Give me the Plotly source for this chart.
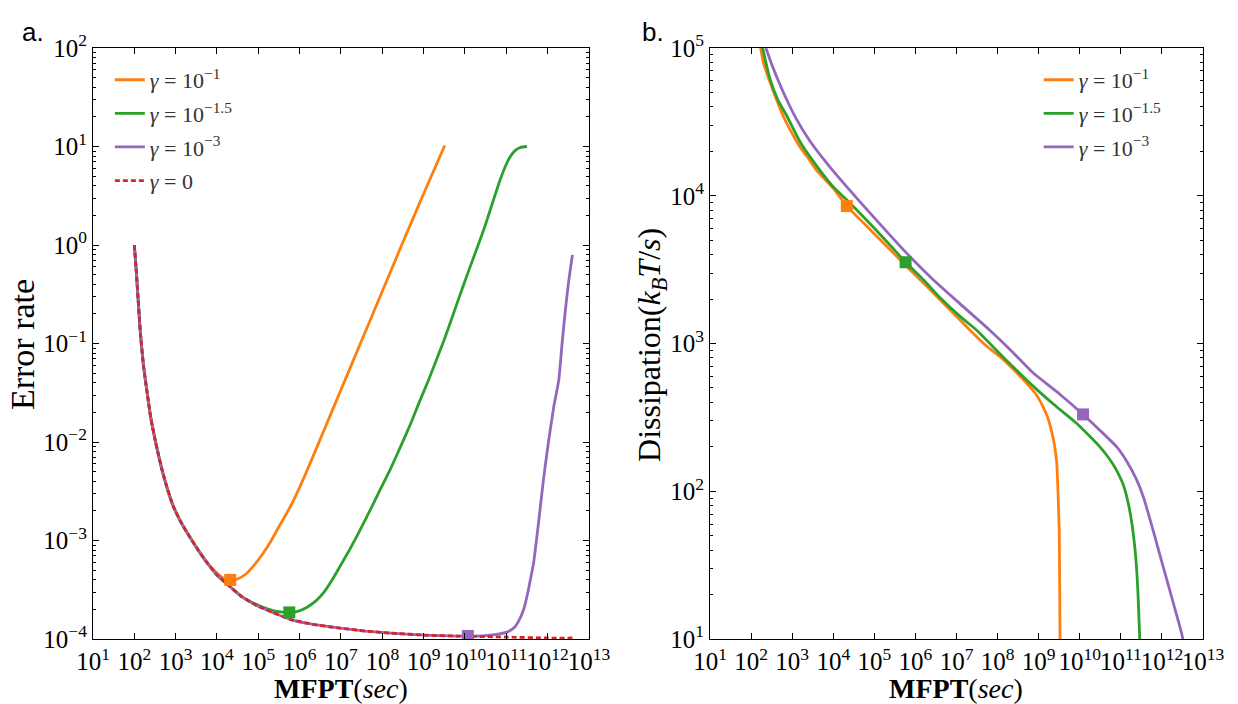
import numpy as np
import plotly.graph_objects as go

# values, stored as log10 of the axis values
# ---- panel a: error rate vs MFPT ----
common_x = [2.0, 2.05, 2.14, 2.22, 2.3, 2.4, 2.54, 2.7, 2.94, 3.15, 3.35, 3.55, 3.75]
common_y = [0.0, -0.28, -0.86, -1.22, -1.47, -1.76, -2.05, -2.33, -2.65, -2.83, -2.97, -3.10, -3.22]

orange_a_x = common_x + [4.0, 4.15, 4.32, 4.5, 4.7, 4.9, 5.1, 5.3, 5.5, 5.77, 6.0, 6.25, 6.5, 6.74, 7.0, 7.5, 8.0, 8.5, 9.0, 9.51]
orange_a_y = common_y + [-3.33, -3.38, -3.40, -3.39, -3.34, -3.25, -3.14, -3.01, -2.86, -2.66, -2.46, -2.22, -1.97, -1.73, -1.47, -0.97, -0.47, 0.03, 0.52, 1.01]

green_a_x = common_x + [4.0, 4.32, 4.6, 4.96, 5.2, 5.45, 5.75, 5.95, 6.17, 6.4, 6.58, 6.8, 6.98, 7.2, 7.38, 7.6, 7.79, 8.0, 8.19, 8.45, 8.68, 8.9, 9.12, 9.5, 9.81, 10.1, 10.45, 10.7, 10.85, 11.0, 11.1, 11.22, 11.34, 11.5]
green_a_y = common_y + [-3.35, -3.47, -3.57, -3.65, -3.69, -3.72, -3.73, -3.72, -3.68, -3.61, -3.53, -3.39, -3.26, -3.10, -2.96, -2.78, -2.62, -2.44, -2.28, -2.04, -1.82, -1.59, -1.37, -0.96, -0.59, -0.25, 0.15, 0.47, 0.66, 0.82, 0.90, 0.96, 0.99, 1.0]

tail_x = [4.0, 4.32, 4.6, 4.96, 5.35, 5.77, 6.3, 6.98, 7.6, 8.19, 9.0, 9.81]
tail_y = [-3.35, -3.47, -3.57, -3.66, -3.73, -3.80, -3.85, -3.89, -3.92, -3.94, -3.96, -3.97]

purple_a_x = common_x + tail_x + [10.07, 10.5, 10.8, 11.02, 11.2, 11.32, 11.42, 11.52, 11.6, 11.66, 11.78, 11.9, 12.02, 12.15, 12.27, 12.35, 12.42, 12.5, 12.6]
purple_a_y = common_y + tail_y + [-3.97, -3.965, -3.95, -3.93, -3.88, -3.80, -3.70, -3.53, -3.36, -3.23, -2.82, -2.38, -2.0, -1.64, -1.37, -1.0, -0.7, -0.4, -0.1]

red_a_x = common_x + tail_x + [11.0, 12.0, 12.6]
red_a_y = common_y + tail_y + [-3.98, -3.99, -3.99]

mark_a_x = [4.32, 5.75, 10.07]
mark_a_y = [-3.40, -3.73, -3.97]

# ---- panel b: dissipation vs MFPT ----
orange_b_x = [2.23, 2.3, 2.38, 2.55, 2.78, 3.0, 3.19, 3.4, 3.6, 4.0, 4.33, 4.65, 4.97, 5.4, 5.79, 6.3, 6.76, 7.33, 7.7, 8.06, 8.4, 8.71, 8.95, 9.11, 9.22, 9.31, 9.38, 9.44, 9.47, 9.50, 9.51, 9.52]
orange_b_y = [5.0, 4.9, 4.83, 4.7, 4.54, 4.42, 4.33, 4.25, 4.17, 4.05, 3.93, 3.84, 3.75, 3.63, 3.52, 3.38, 3.25, 3.09, 2.99, 2.91, 2.82, 2.73, 2.65, 2.57, 2.50, 2.41, 2.32, 2.19, 2.0, 1.74, 1.4, 1.0]

green_b_x = [2.28, 2.45, 2.65, 2.87, 3.2, 3.68, 4.0, 4.41, 5.0, 5.4, 5.76, 6.2, 6.6, 7.1, 7.49, 8.2, 8.87, 9.4, 9.92, 10.25, 10.49, 10.72, 10.9, 11.05, 11.18, 11.27, 11.34, 11.39, 11.42, 11.46]
green_b_y = [5.0, 4.8, 4.65, 4.54, 4.36, 4.17, 4.06, 3.95, 3.78, 3.66, 3.55, 3.43, 3.31, 3.18, 3.09, 2.89, 2.71, 2.58, 2.46, 2.37, 2.30, 2.22, 2.14, 2.05, 1.92, 1.78, 1.62, 1.45, 1.29, 1.0]

purple_b_x = [2.36, 2.5, 2.66, 2.85, 3.1, 3.43, 3.9, 4.33, 5.0, 5.79, 6.4, 7.08, 7.81, 8.3, 8.87, 9.5, 10.08, 10.5, 10.9, 11.15, 11.38, 11.55, 11.71, 11.95, 12.19, 12.32, 12.42, 12.47, 12.51]
purple_b_y = [5.0, 4.89, 4.78, 4.66, 4.52, 4.37, 4.2, 4.06, 3.85, 3.61, 3.44, 3.27, 3.09, 2.96, 2.80, 2.66, 2.52, 2.41, 2.30, 2.20, 2.08, 1.96, 1.81, 1.57, 1.33, 1.2, 1.1, 1.05, 1.0]

mark_b_x = [4.33, 5.76, 10.08]
mark_b_y = [3.93, 3.55, 2.52]

x_exps = list(range(1, 14))
ya_exps = list(range(-4, 3))
yb_exps = list(range(1, 6))

names = ["<i>γ</i> = 10<sup>−1</sup>", "<i>γ</i> = 10<sup>−1.5</sup>", "<i>γ</i> = 10<sup>−3</sup>", "<i>γ</i> = 0"]
colors = ["#ff7f0e", "#2ca02c", "#9467bd", "#d62728"]

SERIF = "Liberation Serif"


def p(v):
    return np.power(10.0, np.array(v))


def exp_labels(exps):
    return [f"10<sup>{str(e).replace('-', '−')}</sup>" for e in exps]


def minor_vals(exps):
    return [m * 10.0 ** e for e in exps[:-1] for m in range(2, 10)]


fig = go.Figure()

lines_a = [(orange_a_x, orange_a_y), (green_a_x, green_a_y), (purple_a_x, purple_a_y)]
for i, (xs, ys) in enumerate(lines_a):
    fig.add_trace(go.Scatter(x=p(xs), y=p(ys), mode="lines", name=names[i], legendgroup=f"a{i}",
                             line=dict(color=colors[i], width=2.8, shape="spline", smoothing=0.5),
                             xaxis="x", yaxis="y", legend="legend"))
fig.add_trace(go.Scatter(x=p(red_a_x), y=p(red_a_y), mode="lines", name=names[3], legendgroup="a3",
                         line=dict(color=colors[3], width=2.8, dash="5px,3px", shape="spline", smoothing=0.5),
                         xaxis="x", yaxis="y", legend="legend"))
fig.add_trace(go.Scatter(x=p(mark_a_x), y=p(mark_a_y), mode="markers", showlegend=False,
                         marker=dict(symbol="square", size=12, color=colors[:3]),
                         xaxis="x", yaxis="y"))

lines_b = [(orange_b_x, orange_b_y), (green_b_x, green_b_y), (purple_b_x, purple_b_y)]
for i, (xs, ys) in enumerate(lines_b):
    fig.add_trace(go.Scatter(x=p(xs), y=p(ys), mode="lines", name=names[i], legendgroup=f"b{i}",
                             line=dict(color=colors[i], width=2.8, shape="spline", smoothing=0.5),
                             xaxis="x2", yaxis="y2", legend="legend2"))
fig.add_trace(go.Scatter(x=p(mark_b_x), y=p(mark_b_y), mode="markers", showlegend=False,
                         marker=dict(symbol="square", size=12, color=colors[:3]),
                         xaxis="x2", yaxis="y2"))

frame = dict(showline=True, linecolor="black", linewidth=1.2, mirror="allticks",
             ticks="inside", ticklen=6, tickcolor="black", showgrid=False, zeroline=False,
             automargin=False, tickfont=dict(family=SERIF, size=25, color="black"))
xcommon = dict(type="log", range=[1, 13], tickvals=list(p(x_exps)), ticktext=exp_labels(x_exps), tickangle=0, **frame)


def yminor(exps):
    return dict(ticks="inside", ticklen=3, tickcolor="black", showgrid=False, tickvals=minor_vals(exps))


title_font = dict(family=SERIF, color="black")
fig.update_layout(
    width=1238, height=704,
    paper_bgcolor="white", plot_bgcolor="white",
    margin=dict(l=93, r=35, t=48, b=65),
    xaxis=dict(domain=[0, 0.4468], anchor="y", **xcommon),
    yaxis=dict(domain=[0, 1], anchor="x", type="log", range=[-4, 2],
               tickvals=list(p(ya_exps)), ticktext=exp_labels(ya_exps), minor=yminor(ya_exps), **frame),
    xaxis2=dict(domain=[0.5559, 1], anchor="y2", **xcommon),
    yaxis2=dict(domain=[0, 1], anchor="x2", type="log", range=[1, 5],
                tickvals=list(p(yb_exps)), ticktext=exp_labels(yb_exps), minor=yminor(yb_exps), **frame),
    legend=dict(x=0.0152, y=0.9815, xanchor="left", yanchor="top", bgcolor="rgba(0,0,0,0)",
                font=dict(family=SERIF, size=22, color="#333333"), tracegroupgap=2),
    legend2=dict(x=0.852, y=0.9815, xanchor="left", yanchor="top", bgcolor="rgba(0,0,0,0)",
                 font=dict(family=SERIF, size=22, color="#333333"), tracegroupgap=2),
    annotations=[
        dict(text="a.", xref="paper", yref="paper", x=-0.0658, y=1.056, xanchor="left", yanchor="top",
             showarrow=False, font=dict(family="Liberation Sans", size=26, color="black")),
        dict(text="b.", xref="paper", yref="paper", x=0.4928, y=1.056, xanchor="left", yanchor="top",
             showarrow=False, font=dict(family="Liberation Sans", size=26, color="black")),
        dict(text="Error rate", xref="paper", yref="paper", x=-0.063, y=0.4975, textangle=-90,
             xanchor="center", yanchor="middle", showarrow=False, font=dict(size=34, **title_font)),
        dict(text="Dissipation(<i>k<sub>B</sub>T</i>/<i>s</i>)", xref="paper", yref="paper", x=0.5036, y=0.4975,
             textangle=-90, xanchor="center", yanchor="middle", showarrow=False, font=dict(size=32, **title_font)),
        dict(text="<b>MFPT</b>(<i>sec</i>)", xref="paper", yref="paper", x=0.2234, y=-0.083,
             xanchor="center", yanchor="middle", showarrow=False, font=dict(size=28, **title_font)),
        dict(text="<b>MFPT</b>(<i>sec</i>)", xref="paper", yref="paper", x=0.7775, y=-0.083,
             xanchor="center", yanchor="middle", showarrow=False, font=dict(size=28, **title_font)),
    ],
)

# drop the default page margin so the figure sits at the window's top-left corner
fig.write_html("out.html", config={"displayModeBar": False},
               post_script="document.body.style.margin='0';")
